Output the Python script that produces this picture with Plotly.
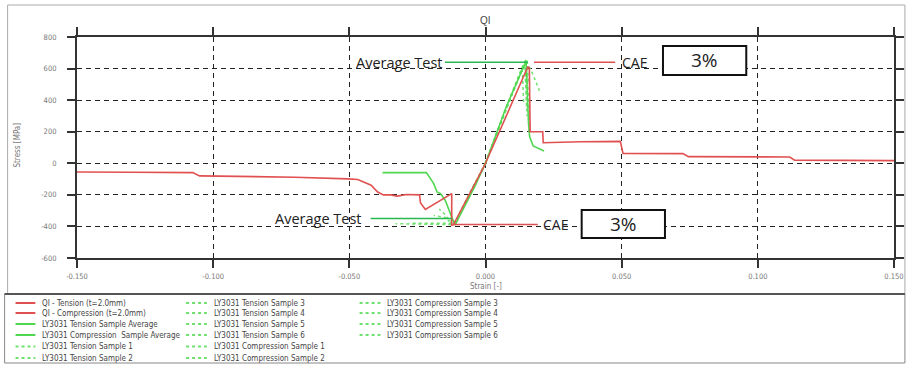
import plotly.graph_objects as go

# ---------------- data ----------------
qi_tension_x = [0, 0.0155, 0.0161, 0.0164, 0.0210, 0.0212, 0.035, 0.0495, 0.0505, 0.0725, 0.0745, 0.1117, 0.1135, 0.15]
qi_tension_y = [0, 610, 605, 200, 200, 130, 136, 139, 63, 61, 42, 40, 20, 17]

qi_comp_x = [0, -0.0118, -0.0124, -0.0124, -0.0221, -0.0239, -0.0242, -0.029, -0.0324, -0.0348,
             -0.0375, -0.0396, -0.042, -0.0469, -0.0505, -0.07, -0.105, -0.1075, -0.13, -0.15]
qi_comp_y = [0, -390, -392, -192, -293, -250, -200, -198, -208, -200,
             -200, -182, -139, -103, -99, -88, -80, -59, -57, -55]

avg_tension_x = [0, 0.0076, 0.0149, 0.0152, 0.0158, 0.0162, 0.0175, 0.0215]
avg_tension_y = [0, 357, 648, 500, 250, 170, 110, 78]

avg_comp_x = [0, -0.004, -0.0081, -0.0095, -0.0112, -0.0124, -0.0136, -0.0148, -0.0165, -0.0178,
              -0.019, -0.0217, -0.0378]
avg_comp_y = [0, -150, -287, -330, -391, -340, -287, -234, -192, -182, -129, -59, -59]

tension_samples = [
    ([0, 0.007, 0.013, 0.0148, 0.0158, 0.0162], [0, 330, 590, 655, 420, 180]),
    ([0, 0.007, 0.0125, 0.0142, 0.0150, 0.0152], [0, 320, 560, 625, 450, 300]),
    ([0, 0.0065, 0.0120, 0.0135, 0.0140], [0, 300, 540, 600, 380]),
    ([0, 0.007, 0.0135, 0.0152, 0.0175, 0.0198], [0, 320, 600, 640, 560, 460]),
    ([0, 0.0075, 0.014, 0.0153, 0.0157], [0, 340, 630, 660, 500]),
    ([0, 0.0068, 0.0132, 0.0146, 0.0151], [0, 310, 580, 620, 350]),
]
comp_samples = [
    ([0, -0.006, -0.0115, -0.014, -0.022, -0.033], [0, -200, -390, -388, -385, -383]),
    ([0, -0.006, -0.0112, -0.0125, -0.016, -0.019], [0, -205, -380, -350, -340, -330]),
    ([0, -0.006, -0.0118, -0.013, -0.0145, -0.017], [0, -195, -395, -370, -330, -290]),
    ([0, -0.0058, -0.011, -0.0122, -0.015], [0, -200, -375, -360, -370]),
    ([0, -0.0062, -0.0116, -0.0135, -0.02, -0.028], [0, -210, -392, -380, -378, -380]),
    ([0, -0.006, -0.0113, -0.0128], [0, -198, -385, -330]),
]

x_ticks = [-0.15, -0.10, -0.05, 0.0, 0.05, 0.10, 0.15]
x_tick_labels = ["-0.150", "-0.100", "-0.050", "0.000", "0.050", "0.100", "0.150"]
y_ticks = [-600, -400, -200, 0, 200, 400, 600, 800]
y_tick_labels = ["-600", "-400", "-200", "0", "200", "400", "600", "800"]

# callouts: (average test level, its x-span, CAE level, its x-span)
top_avg_level, top_avg_span = 640, [-0.0149, 0.0156]
top_cae_level, top_cae_span = 640, [0.0178, 0.0476]
bot_avg_level, bot_avg_span = -350, [-0.0422, -0.0124]
bot_cae_level, bot_cae_span = -388, [-0.0117, 0.0192]
diff_label = "3%"

legend_columns = [
    ["QI - Tension (t=2.0mm)", "QI - Compression (t=2.0mm)", "LY3031 Tension Sample Average",
     "LY3031 Compression  Sample Average", "LY3031 Tension Sample 1", "LY3031 Tension Sample 2"],
    ["LY3031 Tension Sample 3", "LY3031 Tension Sample 4", "LY3031 Tension Sample 5",
     "LY3031 Tension Sample 6", "LY3031 Compression Sample 1", "LY3031 Compression Sample 2"],
    ["LY3031 Compression Sample 3", "LY3031 Compression Sample 4", "LY3031 Compression Sample 5",
     "LY3031 Compression Sample 6"],
]

# ---------------- styles ----------------
RED = "rgb(225,80,80)"
GREEN = "rgb(80,215,80)"
DGREEN = "rgb(110,225,110)"
CALLOUT_GREEN = "rgb(40,185,80)"
NARROW = "DejaVu Sans Condensed, Liberation Sans Narrow, Arial Narrow, Liberation Sans, sans-serif"
XNARROW = ("Noto Sans ExtraCondensed, Noto Sans Condensed, DejaVu Sans Condensed, "
           "Liberation Sans Narrow, Arial Narrow, Liberation Sans, sans-serif")
SANS = "Open Sans, Liberation Sans, Arial, sans-serif"

W, H = 916, 365
PL, PR, PT, PB = 77, 901, 37, 258


def px(x):
    return (x - PL) / (PR - PL)


def py(y):
    return (PB - y) / (PB - PT)


fig = go.Figure()

for xs, ys in tension_samples + comp_samples:
    fig.add_trace(go.Scatter(x=xs, y=ys, mode="lines", showlegend=False, hoverinfo="skip",
                             line=dict(color=DGREEN, width=1.5, dash="3px,3px")))

fig.add_trace(go.Scatter(x=avg_tension_x, y=avg_tension_y, mode="lines", showlegend=False,
                         line=dict(color=GREEN, width=1.6)))
fig.add_trace(go.Scatter(x=avg_comp_x, y=avg_comp_y, mode="lines", showlegend=False,
                         line=dict(color=GREEN, width=1.6)))
fig.add_trace(go.Scatter(x=qi_tension_x, y=qi_tension_y, mode="lines", showlegend=False,
                         line=dict(color=RED, width=1.6)))
fig.add_trace(go.Scatter(x=qi_comp_x, y=qi_comp_y, mode="lines", showlegend=False,
                         line=dict(color=RED, width=1.6)))

# callout lines
for span, lvl, col in [(top_avg_span, top_avg_level, CALLOUT_GREEN), (top_cae_span, top_cae_level, RED),
                       (bot_avg_span, bot_avg_level, CALLOUT_GREEN), (bot_cae_span, bot_cae_level, RED)]:
    fig.add_trace(go.Scatter(x=span, y=[lvl, lvl], mode="lines", showlegend=False, hoverinfo="skip",
                             line=dict(color=col, width=1.6)))

shapes = []
annotations = []

# callout texts
annotations += [
    dict(x=top_avg_span[0], y=top_avg_level, xref="x", yref="y", text="Average Test", showarrow=False,
         xanchor="right", yanchor="middle", xshift=0, font=dict(family=SANS, size=14.5, color="#222")),
    dict(x=top_cae_span[1], y=top_cae_level, xref="x", yref="y", text="CAE", showarrow=False,
         xanchor="left", yanchor="middle", xshift=5, font=dict(family=SANS, size=14, color="#222")),
    dict(x=bot_avg_span[0], y=bot_avg_level, xref="x", yref="y", text="Average Test", showarrow=False,
         xanchor="right", yanchor="middle", xshift=-7, font=dict(family=SANS, size=14.5, color="#222")),
    dict(x=bot_cae_span[1], y=bot_cae_level, xref="x", yref="y", text="CAE", showarrow=False,
         xanchor="left", yanchor="middle", xshift=3, font=dict(family=SANS, size=14, color="#222")),
]

# 3% boxes (pixel positions)
for (x0, x1, y0, y1) in [(668, 752, 46, 75), (586, 670, 210, 238)]:
    shapes.append(dict(type="rect", xref="paper", yref="paper", x0=px(x0), x1=px(x1), y0=py(y1), y1=py(y0),
                       line=dict(color="#111", width=2), fillcolor="white", layer="above"))
    annotations.append(dict(x=px((x0 + x1) / 2), y=py((y0 + y1) / 2), xref="paper", yref="paper",
                            text=diff_label, showarrow=False, xanchor="center", yanchor="middle",
                            font=dict(family=SANS, size=19, color="#222")))

# outer frames
shapes.append(dict(type="rect", xref="paper", yref="paper", x0=px(7), x1=px(912), y0=py(294), y1=py(5),
                   line=dict(color="#aaa", width=1), layer="below"))
shapes.append(dict(type="rect", xref="paper", yref="paper", x0=px(4), x1=px(912), y0=py(363), y1=py(294),
                   line=dict(color="#888", width=1), layer="below"))
shapes.append(dict(type="line", xref="paper", yref="paper", x0=px(4), x1=px(912), y0=py(294), y1=py(294),
                   line=dict(color="#555", width=2)))

# title / axis titles
annotations += [
    dict(x=0.5, y=py(20), xref="paper", yref="paper", text="QI", showarrow=False, xanchor="center",
         yanchor="middle", font=dict(family="Liberation Sans, Arial, sans-serif", size=10, color="#444")),
    dict(x=px(489), y=py(286), xref="paper", yref="paper", text="Strain [-]", showarrow=False,
         xanchor="center", yanchor="middle", font=dict(family=XNARROW, size=8, color="#777")),
    dict(x=px(16), y=py(145), xref="paper", yref="paper", text="Stress [MPa]", showarrow=False, textangle=-90,
         xanchor="center", yanchor="middle", font=dict(family=XNARROW, size=8, color="#777")),
]

# legend (manual, three columns)
col_line_x = [(15, 35), (187, 208), (362, 383)]
row_y = [303, 313, 324, 335, 346.5, 358]
for ci, names in enumerate(legend_columns):
    for ri, name in enumerate(names):
        if "QI" in name:
            col, dash, w = RED, "solid", 2
        elif "Average" in name:
            col, dash, w = GREEN, "solid", 2
        else:
            col, dash, w = DGREEN, "3px,3px", 2
        lx0, lx1 = col_line_x[ci]
        yy = row_y[ri]
        shapes.append(dict(type="line", xref="paper", yref="paper", x0=px(lx0), x1=px(lx1), y0=py(yy), y1=py(yy),
                           line=dict(color=col, width=w, dash=dash)))
        annotations.append(dict(x=px(lx1 + 5), y=py(yy), xref="paper", yref="paper", text=name, showarrow=False,
                                xanchor="left", yanchor="middle",
                                font=dict(family=XNARROW, size=8, color="#444")))

axis_common = dict(
    showline=True, linecolor="#333", linewidth=2, mirror="ticks",
    ticks="outside", ticklen=8, tickwidth=2, tickcolor="#333",
    showgrid=True, gridcolor="#222", gridwidth=1.3, griddash="5px,4px",
    zeroline=False, tickfont=dict(family=NARROW, size=7.5, color="#777"),
)

fig.update_layout(
    width=W, height=H, autosize=False,
    margin=dict(l=PL, r=W - PR, t=PT, b=H - PB, pad=0),
    paper_bgcolor="white", plot_bgcolor="white",
    showlegend=False,
    xaxis=dict(range=[-0.15, 0.15], tickvals=x_ticks, ticktext=x_tick_labels, ticklabelstandoff=2, **axis_common),
    yaxis=dict(range=[-600, 800], tickvals=y_ticks, ticktext=y_tick_labels, ticklabelstandoff=9, **axis_common),
    shapes=shapes, annotations=annotations,
)

fig.write_html("out.html", config={"displayModeBar": False},
               post_script="document.body.style.margin='0';document.body.style.overflow='hidden';")
